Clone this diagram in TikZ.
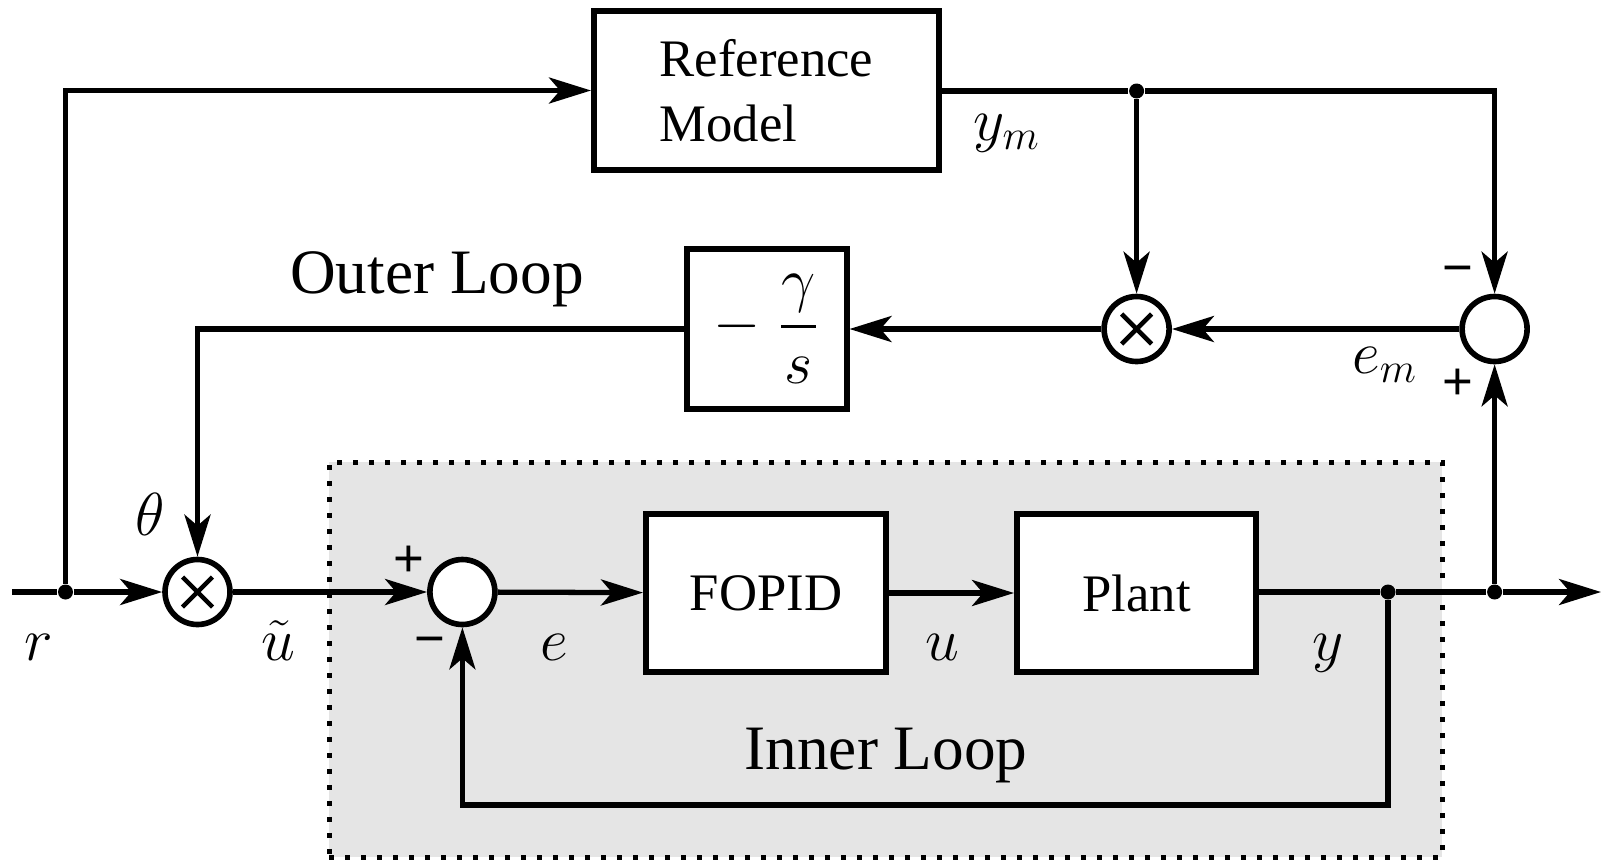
\documentclass[tikz,border=0pt]{standalone}
\usepackage{amsmath,amssymb}
\usepackage{fontspec}
\setmainfont{Liberation Serif}
\newfontfamily\signfont{Liberation Sans}
\usepackage{tikz}
\usetikzlibrary{arrows.meta,positioning}

\begin{document}
\begin{tikzpicture}[x=0.1mm, y=-0.1mm,
    block/.style={draw, line width=1.7pt, fill=white, inner sep=0pt, font=\fontsize{15}{18.5}\selectfont},
    sumnode/.style={draw, circle, line width=1.6pt, fill=white, minimum size=6.5mm, inner sep=0pt},
    mult/.style={sumnode, path picture={\draw[line width=1.3pt] (path picture bounding box.center) ++(-1.5mm,-1.5mm) -- ++(3mm,3mm) (path picture bounding box.center) ++(-1.5mm,1.5mm) -- ++(3mm,-3mm);}},
    dot/.style={circle, fill, inner sep=0pt, minimum size=1.5mm},
    wire/.style={line width=1.5pt},
    arr/.style={wire, -{Stealth[length=4.2mm, width=2.6mm, inset=1.1mm]}},
    mlabel/.style={anchor=base, inner sep=0pt, font=\fontsize{17}{20}\selectfont},
    sign/.style={inner sep=0pt, font=\signfont\fontsize{15}{18}\selectfont},
    looplabel/.style={anchor=base, inner sep=0pt, font=\fontsize{18}{22}\selectfont}]
    \useasboundingbox (0,0) rectangle (1604,862);

    % inner loop region
    \node[draw, fill=black!10, line width=0.5mm, dash pattern=on 0.5mm off 1.1mm,
          minimum width=111.3mm, minimum height=39.5mm] (innerbox) at (885.5,659.5) {};

    % blocks
    \node[block, minimum width=34.5mm, minimum height=15.9mm, align=left] (refmodel) at (766.5,90.5) {Reference\\Model};
    \node[block, minimum width=16mm, minimum height=16mm, font=\fontsize{17}{20}\selectfont] (gain) at (766.5,329) {$-\;\dfrac{\gamma}{s}$};
    \node[block, minimum width=24mm, minimum height=15.8mm] (fopid) at (766,593) {FOPID};
    \node[block, minimum width=23.9mm, minimum height=15.8mm] (plant) at (1136.5,593) {Plant};

    \node[mult] (m1) at (197.5,592) {};
    \node[mult] (m2) at (1136.6,329) {};
    \node[sumnode] (s1) at (462.4,592) {};
    \node[sumnode] (s2) at (1494.6,329) {};

    % branch points
    \coordinate (in) at (12,592);
    \coordinate (out) at (1601,592);
    \coordinate (fb) at (1388,805);
    \node[dot] (rsplit) at (65.5,592) {};
    \node[dot] (ymsplit) at (1136.6,91) {};
    \node[dot] (ysplit) at (1388,592) {};
    \node[dot] (outsplit) at (1494.6,592) {};

    % connectors
    \draw[wire] (in) -- (rsplit);
    \draw[arr] (rsplit) -- (m1);
    \draw[arr] (rsplit) |- (refmodel.west);
    \draw[wire] (refmodel.east |- ymsplit) -- (ymsplit);
    \draw[arr] (ymsplit) -- (m2);
    \draw[arr] (ymsplit) -| (s2);
    \draw[arr] (s2) -- (m2);
    \draw[arr] (m2) -- (gain);
    \draw[arr] (gain) -| (m1);
    \draw[arr] (m1) -- (s1);
    \draw[arr] (s1) -- (fopid);
    \draw[arr] (fopid) -- (plant.west |- fopid);
    \draw[wire] (plant.east |- ysplit) -- (ysplit);
    \draw[wire] (ysplit) -- (outsplit);
    \draw[arr] (outsplit) -- (out);
    \draw[arr] (outsplit) -- (s2);
    \draw[arr] (ysplit) -- (fb) -| (s1);

    % signal labels
    \node[mlabel] (lr) at (39,660) {$r$};
    \node[mlabel] (lut) at (278,660) {$\tilde{u}$};
    \node[mlabel] (le) at (554,660) {$e$};
    \node[mlabel] (lu) at (942,660) {$u$};
    \node[mlabel] (ly) at (1328,660) {$y$};
    \node[mlabel] (ltheta) at (150,535) {$\theta$};
    \node[mlabel] (lym) at (1007,140) {$y_m$};
    \node[mlabel] (lem) at (1385,373) {$e_m$};

    % signs
    \node[sign] (s1plus) at (409,561) {+};
    \node[sign] (s1minus) at (430,647) {\symbol{"2212}};
    \node[sign] (s2minus) at (1458,276) {\symbol{"2212}};
    \node[sign] (s2plus) at (1458,384) {+};

    % loop names
    \node[looplabel] (outerlbl) at (437,293) {Outer Loop};
    \node[looplabel] (innerlbl) at (886,769) {Inner Loop};
\end{tikzpicture}
\end{document}
